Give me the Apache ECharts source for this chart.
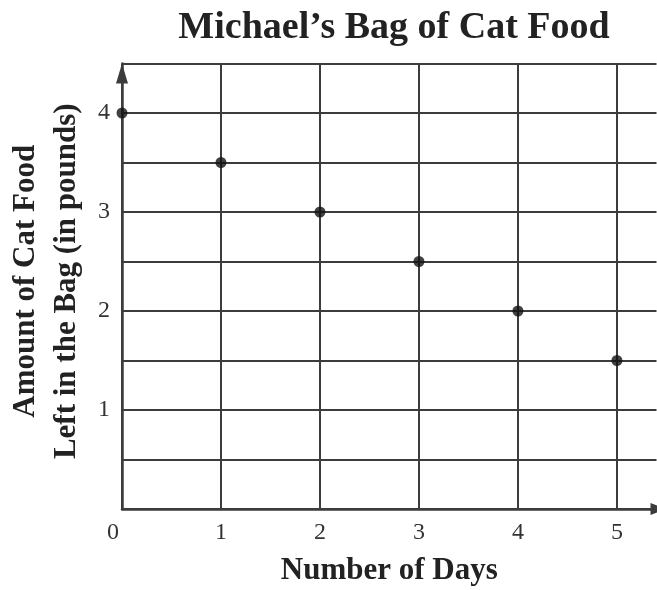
<!DOCTYPE html>
<html><head><meta charset="utf-8">
<script src="https://cdn.jsdelivr.net/npm/echarts@6/dist/echarts.min.js"></script>
<style>html,body{margin:0;padding:0;background:#fff}#c{width:657px;height:590px}</style>
</head><body><div id="c"></div>
<script>
var days = [0, 1, 2, 3, 4, 5];
var amounts = [4, 3.5, 3, 2.5, 2, 1.5];
var xTicks = ['0', '1', '2', '3', '4', '5'];
var yTicks = ['1', '2', '3', '4'];

var chart = echarts.init(document.getElementById('c'));
var serif = '"Liberation Serif", "DejaVu Serif", serif';
var lineColor = '#3c3c3c';
chart.setOption({
  animation: false,
  title: {
    text: 'Michael\u2019s Bag of Cat Food',
    left: 389, top: 4, textAlign: 'center',
    textStyle: {fontFamily: serif, fontWeight: 'bold', fontSize: 38, color: '#222'}
  },
  grid: {left: 122, top: 63.5, right: 0.5, bottom: 81, outerBoundsMode: 'none', containLabel: false},
  xAxis: {
    type: 'value', min: 0, max: 5.4, interval: 1,
    name: 'Number of Days', nameLocation: 'middle', nameGap: 46,
    nameTextStyle: {fontFamily: serif, fontWeight: 'bold', fontSize: 31, color: '#222'},
    axisLine: {show: true, lineStyle: {color: lineColor, width: 2.5}, symbol: ['none', 'triangle'], symbolSize: [12, 16], symbolOffset: [0, 2]},
    axisTick: {show: false},
    axisLabel: {
      margin: 12, fontFamily: serif, fontSize: 24, color: '#333',
      formatter: function (v) {
        var i = xTicks.indexOf(String(v));
        if (i < 0) return '';
        return i === 0 ? '{z|' + xTicks[i] + '}' : xTicks[i];
      },
      rich: {z: {fontFamily: serif, fontSize: 24, color: '#333', padding: [0, 18, 0, 0]}}
    },
    splitLine: {show: true, showMaxLine: false, lineStyle: {color: lineColor, width: 2}}
  },
  yAxis: {
    type: 'value', min: 0, max: 4.5, interval: 0.5,
    name: 'Amount of Cat Food\nLeft in the Bag (in pounds)', nameLocation: 'middle', nameGap: 31, nameRotate: 90,
    nameTextStyle: {fontFamily: serif, fontWeight: 'bold', fontSize: 31, color: '#222', lineHeight: 41, padding: [0, 0, 0, 10]},
    axisLine: {show: true, lineStyle: {color: lineColor, width: 2.5}, symbol: ['none', 'triangle'], symbolSize: [12, 20], symbolOffset: [0, -10]},
    axisTick: {show: false},
    axisLabel: {
      margin: 12, fontFamily: serif, fontSize: 24, color: '#333',
      formatter: function (v) { var s = String(v); return yTicks.indexOf(s) >= 0 ? s : ''; }
    },
    splitLine: {show: true, lineStyle: {color: lineColor, width: 2}}
  },
  series: [{
    type: 'scatter',
    data: days.map(function (d, i) { return [d, amounts[i]]; }),
    symbolSize: 11,
    itemStyle: {color: '#111'},
    z: 10
  }]
});
</script></body></html>
